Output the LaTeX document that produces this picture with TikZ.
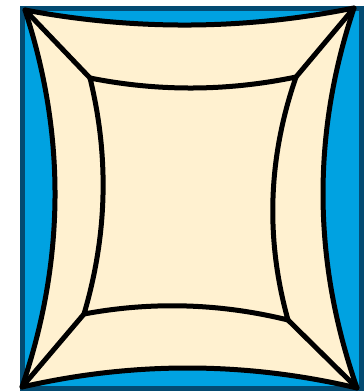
\documentclass[tikz,border=0pt]{standalone}
\usepackage{tikz}
\definecolor{frameblue}{HTML}{00A2E1}
\definecolor{framedark}{HTML}{034B72}
\definecolor{cream}{HTML}{FFF1D0}
\tikzset{
  frame/.style={draw=framedark,fill=frameblue,line width=5pt},
  cushion/.style={draw=black,fill=cream,line width=5pt,line join=round},
  seam/.style={draw=black,line width=5pt,line join=round,line cap=round}
}
\begin{document}
\begin{tikzpicture}[x=1pt,y=-1pt]
\useasboundingbox (0,0) rectangle (364,391);
% outer and inner corners
\coordinate (otl) at (25,10);
\coordinate (otr) at (354,8);
\coordinate (obl) at (22,387);
\coordinate (obr) at (357,388);
\coordinate (itl) at (90,78);
\coordinate (itr) at (296,77);
\coordinate (ibl) at (84,314);
\coordinate (ibr) at (288,320);
% blue frame
\draw[frame] (22.5,8.5) rectangle (361.5,388.5);
% outer cushion
\draw[cushion] (otl) .. controls (135,30.7) and (244.7,30) .. (otr)
  .. controls (311.7,134.7) and (312.7,261.3) .. (obr)
  .. controls (245.7,361.7) and (134,361.3) .. (obl)
  .. controls (65,261) and (66,135.3) .. cycle;
% inner panel
\draw[seam] (itl) .. controls (158.7,91.7) and (227.3,91.3) .. (itr)
  .. controls (268,157.7) and (265.3,238.7) .. (ibr)
  .. controls (220,303.3) and (152,301.3) .. (ibl)
  .. controls (107.3,235.3) and (109.3,156.7) .. cycle;
% corner seams
\draw[seam] (otl) -- (itl);
\draw[seam] (otr) -- (itr);
\draw[seam] (obl) -- (ibl);
\draw[seam] (obr) -- (ibr);
\end{tikzpicture}
\end{document}
